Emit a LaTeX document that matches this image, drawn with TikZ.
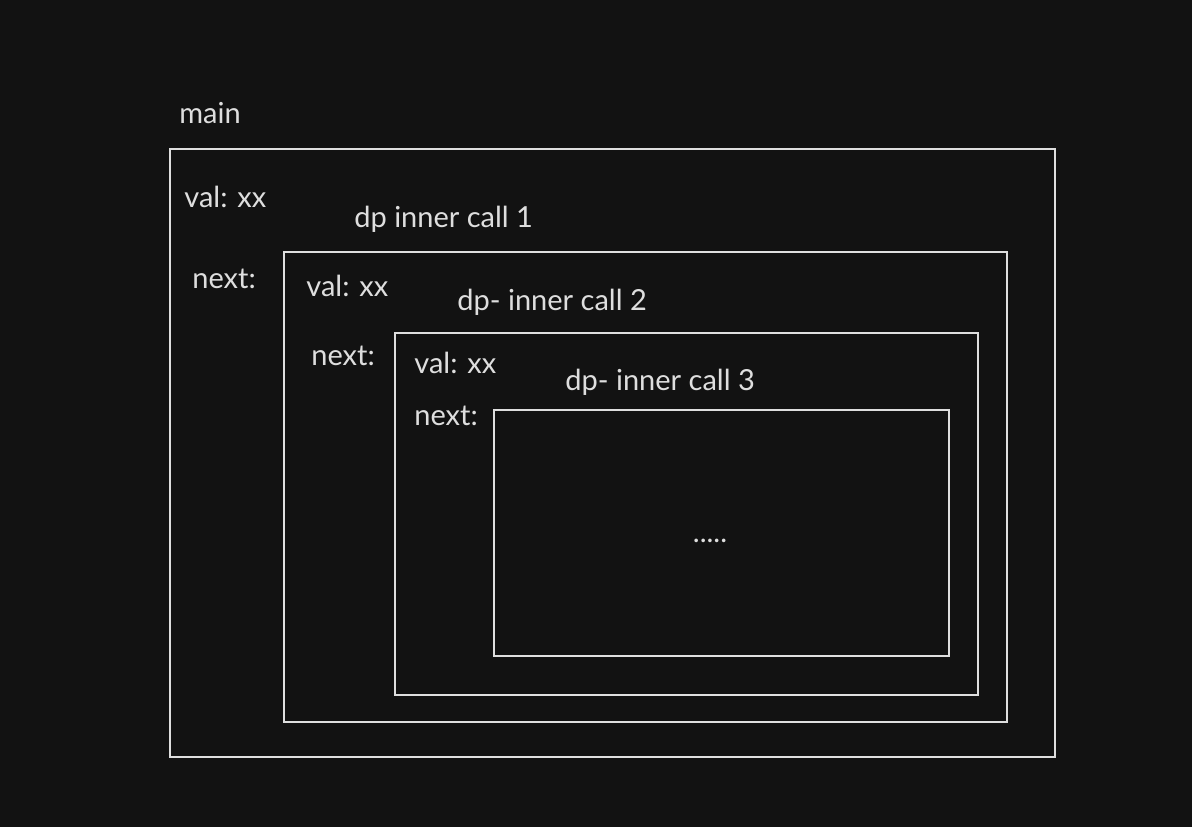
\documentclass[tikz,border=0pt]{standalone}
\usepackage{fontspec}
\setmainfont{Lato}
\usepackage{tikz}
\definecolor{bgdark}{HTML}{121212}
\definecolor{inkgrey}{HTML}{DEDEDE}

\begin{document}
\begin{tikzpicture}[x=0.02cm,y=-0.02cm,
    frame/.style={draw=inkgrey,line width=0.9pt},
    lbl/.style={anchor=west,inner sep=0pt,text=inkgrey,font=\fontsize{16.5}{19}\selectfont}]
      %this draws the background
      \fill[bgdark] (0,0) rectangle (1192,827);
      \useasboundingbox (0,0) rectangle (1192,827);
      %this draws the frames
      \coordinate (m1) at (170,149);  \coordinate (m2) at (1055,757);
      \coordinate (c1a) at (284,252); \coordinate (c1b) at (1007,722);
      \coordinate (c2a) at (395,333); \coordinate (c2b) at (978,695);
      \coordinate (c3a) at (494,410); \coordinate (c3b) at (949,656);
      \draw[frame] (m1) rectangle (m2);
      \draw[frame] (c1a) rectangle (c1b);
      \draw[frame] (c2a) rectangle (c2b);
      \draw[frame] (c3a) rectangle (c3b);
      %this draws the labels
      \node [lbl] (main) at (179,113) {main};
      \node [lbl] (val0) at (184,197) {val: xx};
      \node [lbl] (next0) at (192,279) {next:};
      \node [lbl] (call1) at (354,219) {dp inner call 1};
      \node [lbl] (val1) at (306,286) {val: xx};
      \node [lbl] (next1) at (311,356) {next:};
      \node [lbl] (call2) at (457,302) {dp- inner call 2};
      \node [lbl] (val2) at (414,363) {val: xx};
      \node [lbl] (next2) at (414,416) {next:};
      \node [lbl] (call3) at (565,382) {dp- inner call 3};
      \node [lbl,anchor=center] (dots) at (710,541) {.....};
    \end{tikzpicture}
\end{document}
